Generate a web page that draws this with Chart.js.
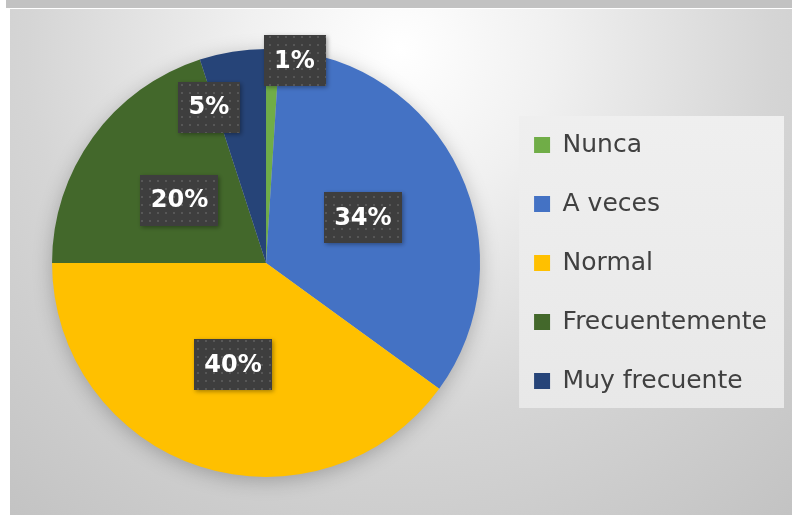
<!DOCTYPE html>
<html>
<head>
<meta charset="utf-8">
<script src="https://cdn.jsdelivr.net/npm/chart.js@4.4.1/dist/chart.umd.min.js"></script>
<style>
  html,body{margin:0;padding:0;background:#ffffff;}
  #band{position:absolute;left:6px;top:0;width:786px;height:8px;background:#c2c2c2;}
  #wrap{position:absolute;left:10px;top:9px;width:782px;height:506px;}
</style>
</head>
<body>
<div id="band"></div>
<div id="wrap"><canvas id="c" width="782" height="506"></canvas></div>
<script>
const categories = ['Nunca', 'A veces', 'Normal', 'Frecuentemente', 'Muy frecuente'];
const values = [1, 34, 40, 20, 5];
const colors = ['#70ad47', '#4472c4', '#ffc000', '#43682b', '#264478'];

function makePattern(ctx) {
  const p = document.createElement('canvas');
  p.width = 8; p.height = 8;
  const g = p.getContext('2d');
  g.fillStyle = '#3e3e3e';
  g.fillRect(0, 0, 8, 8);
  g.fillStyle = '#575757';
  g.fillRect(3, 3, 2, 2);
  return ctx.createPattern(p, 'repeat');
}

const bgPlugin = {
  id: 'bg',
  beforeDraw(chart) {
    const ctx = chart.ctx;
    const w = chart.width, h = chart.height;
    ctx.save();
    const g = ctx.createRadialGradient(390, 40, 0, 390, 40, 620);
    g.addColorStop(0, '#ffffff');
    g.addColorStop(0.25, '#f0f0f0');
    g.addColorStop(0.6, '#d5d5d5');
    g.addColorStop(1, '#c2c2c2');
    ctx.fillStyle = g;
    ctx.fillRect(0, 0, w, h);
    // legend background
    const lg = chart.legend;
    if (lg && lg.columnSizes && lg.columnSizes.length) {
      const pad = lg.options.labels.padding;
      const fs = lg.options.labels.font.size;
      const colH = lg.columnSizes[0].height;
      const y0 = ((lg.top + pad) + (lg.bottom - colH)) / 2;
      const firstC = y0 + fs / 2;
      const lastC = firstC + (categories.length - 1) * (fs + pad);
      const left = lg.left + pad - 15;
      const right = lg.right + 7;
      const top = firstC - 29, bottom = lastC + 27;
      const lgG = ctx.createLinearGradient(0, top, 0, bottom);
      lgG.addColorStop(0, '#efefef');
      lgG.addColorStop(1, '#e8e8e8');
      ctx.fillStyle = lgG;
      ctx.fillRect(left, top, right - left, bottom - top);
    }
    ctx.restore();
  },
  beforeDatasetsDraw(chart) {
    const arc = chart.getDatasetMeta(0).data[0];
    if (!arc) return;
    const {x, y, outerRadius} = arc.getProps(['x', 'y', 'outerRadius'], true);
    const ctx = chart.ctx;
    ctx.save();
    ctx.shadowColor = 'rgba(0,0,0,0.25)';
    ctx.shadowBlur = 20;
    ctx.shadowOffsetY = 4;
    ctx.fillStyle = '#c8c8c8';
    ctx.beginPath();
    ctx.arc(x, y, outerRadius - 1, 0, Math.PI * 2);
    ctx.fill();
    ctx.restore();
  }
};

const labelPlugin = {
  id: 'boxLabels',
  afterDatasetsDraw(chart, args, opts) {
    const ctx = chart.ctx;
    const meta = chart.getDatasetMeta(0);
    const data = chart.data.datasets[0].data;
    const total = data.reduce((a, b) => a + b, 0);
    const pat = makePattern(ctx);
    ctx.save();
    ctx.font = 'bold 24px "DejaVu Sans"';
    ctx.textAlign = 'center';
    ctx.textBaseline = 'middle';
    meta.data.forEach((arc, i) => {
      const p = arc.getProps(['x', 'y', 'startAngle', 'endAngle', 'outerRadius'], true);
      const mid = (p.startAngle + p.endAngle) / 2;
      const r = p.outerRadius * opts.radial[i];
      const cx = p.x + Math.cos(mid) * r + opts.nudge[i][0];
      const cy = p.y + Math.sin(mid) * r + opts.nudge[i][1];
      const txt = Math.round(data[i] / total * 100) + '%';
      const tw = ctx.measureText(txt).width;
      const bw = tw + 21, bh = 51;
      ctx.save();
      ctx.shadowColor = 'rgba(0,0,0,0.35)';
      ctx.shadowBlur = 4;
      ctx.shadowOffsetX = 1.5;
      ctx.shadowOffsetY = 1.5;
      ctx.fillStyle = pat;
      ctx.fillRect(Math.round(cx - bw / 2), Math.round(cy - bh / 2), Math.round(bw), bh);
      ctx.restore();
      ctx.fillStyle = '#ffffff';
      ctx.fillText(txt, cx, cy + 1);
    });
    ctx.restore();
  }
};

new Chart(document.getElementById('c'), {
  type: 'pie',
  data: {
    labels: categories,
    datasets: [{
      data: values,
      backgroundColor: colors,
      borderWidth: 0,
      hoverOffset: 0
    }]
  },
  options: {
    responsive: false,
    animation: false,
    layout: { padding: { left: 22, right: 15, top: 40, bottom: 38 } },
    plugins: {
      tooltip: { enabled: false },
      legend: {
        display: true,
        position: 'right',
        labels: {
          boxWidth: 16,
          boxHeight: 16,
          padding: 34,
          color: '#404040',
          font: { family: '"DejaVu Sans"', size: 25 }
        }
      },
      boxLabels: {
        radial: [0.95, 0.5, 0.5, 0.5, 0.78],
        nudge: [[22, 1], [0, 0], [0, 0], [0, 0], [-31, 9]]
      }
    }
  },
  plugins: [bgPlugin, labelPlugin]
});
</script>
</body>
</html>
